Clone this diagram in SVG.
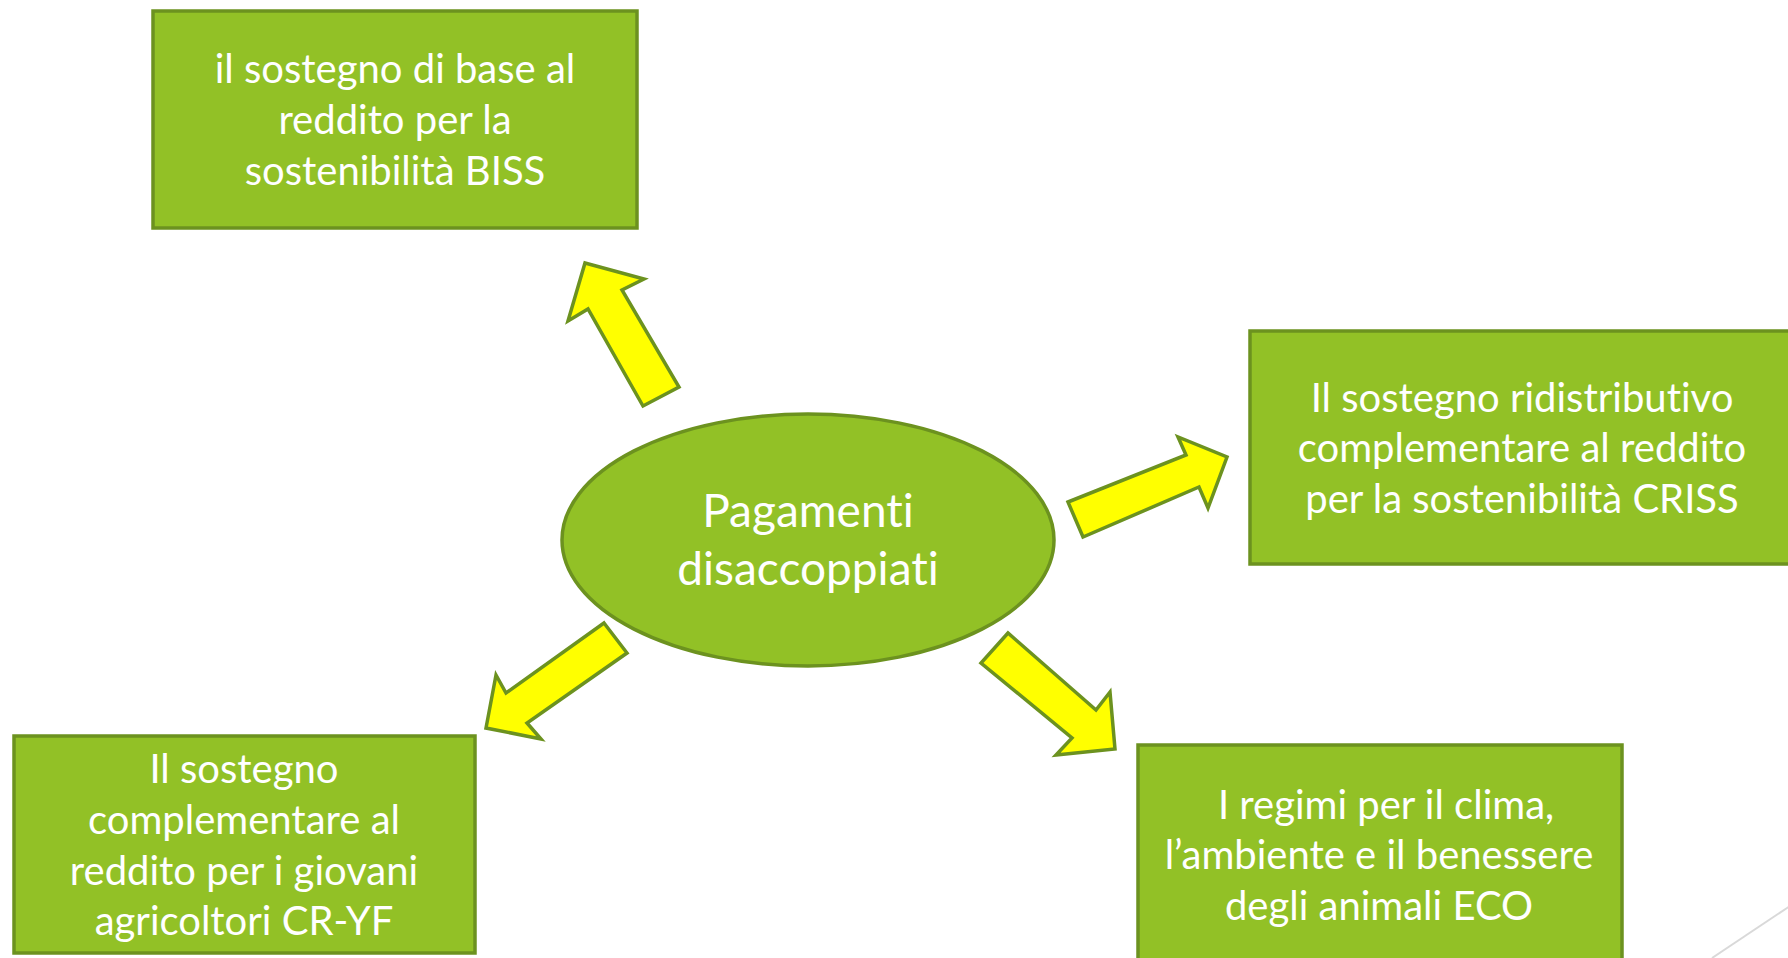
<svg xmlns="http://www.w3.org/2000/svg" width="1788" height="958" viewBox="0 0 1788 958">
<style>
.box{fill:#92C126;stroke:#6C921F;stroke-width:3.5}
.arr{fill:#FFFF00;stroke:#6C921F;stroke-width:3.5;stroke-linejoin:miter}
.t{font-family:Lato,"Open Sans",sans-serif;fill:#FFFFFF;text-anchor:middle;font-size:40px;font-variant-ligatures:none}
.tc{font-family:Lato,"Open Sans",sans-serif;fill:#FFFFFF;text-anchor:middle;font-size:46px;font-variant-ligatures:none}
</style>
<rect width="1788" height="958" fill="#FFFFFF"/>
<line x1="1712" y1="958" x2="1790" y2="906" stroke="#D9D9D9" stroke-width="2"/>
<g id="connectors">
<polygon class="arr" points="585,263 644,279 622,290 679,387 643,406 588,309 568,321"/>
<polygon class="arr" points="1068,502 1186,455 1178,437 1227,457 1208,508 1199,487 1083,537"/>
<polygon class="arr" points="604,623 627,653 527,723 541,739 486,728 496,675 506,693"/>
<polygon class="arr" points="1008,633 981,663 1072,738 1056,755 1115,749 1110,692 1096,710"/>
</g>
<g id="center">
<ellipse class="box" cx="808" cy="540" rx="246" ry="126"/>
<text class="tc" x="808" y="527">Pagamenti</text>
<text class="tc" x="808" y="585">disaccoppiati</text>
</g>
<g id="biss">
<rect class="box" x="153" y="11" width="484" height="217"/>
<text class="t" x="395" y="83">il sostegno di base al</text>
<text class="t" x="395" y="134">reddito per la</text>
<text class="t" x="395" y="185">sostenibilità BISS</text>
</g>
<g id="criss">
<rect class="box" x="1250" y="331" width="560" height="233"/>
<text class="t" x="1522" y="412">Il sostegno ridistributivo</text>
<text class="t" x="1522" y="462">complementare al reddito</text>
<text class="t" x="1522" y="513">per la sostenibilità CRISS</text>
</g>
<g id="cryf">
<rect class="box" x="14" y="736" width="461" height="217"/>
<text class="t" x="244" y="783">Il sostegno</text>
<text class="t" x="244" y="834">complementare al</text>
<text class="t" x="244" y="885">reddito per i giovani</text>
<text class="t" x="244" y="935">agricoltori CR-YF</text>
</g>
<g id="eco">
<rect class="box" x="1138" y="745" width="484" height="240"/>
<text class="t" x="1386" y="819">I regimi per il clima,</text>
<text class="t" x="1379" y="869">l’ambiente e il benessere</text>
<text class="t" x="1379" y="920">degli animali ECO</text>
</g>
</svg>
